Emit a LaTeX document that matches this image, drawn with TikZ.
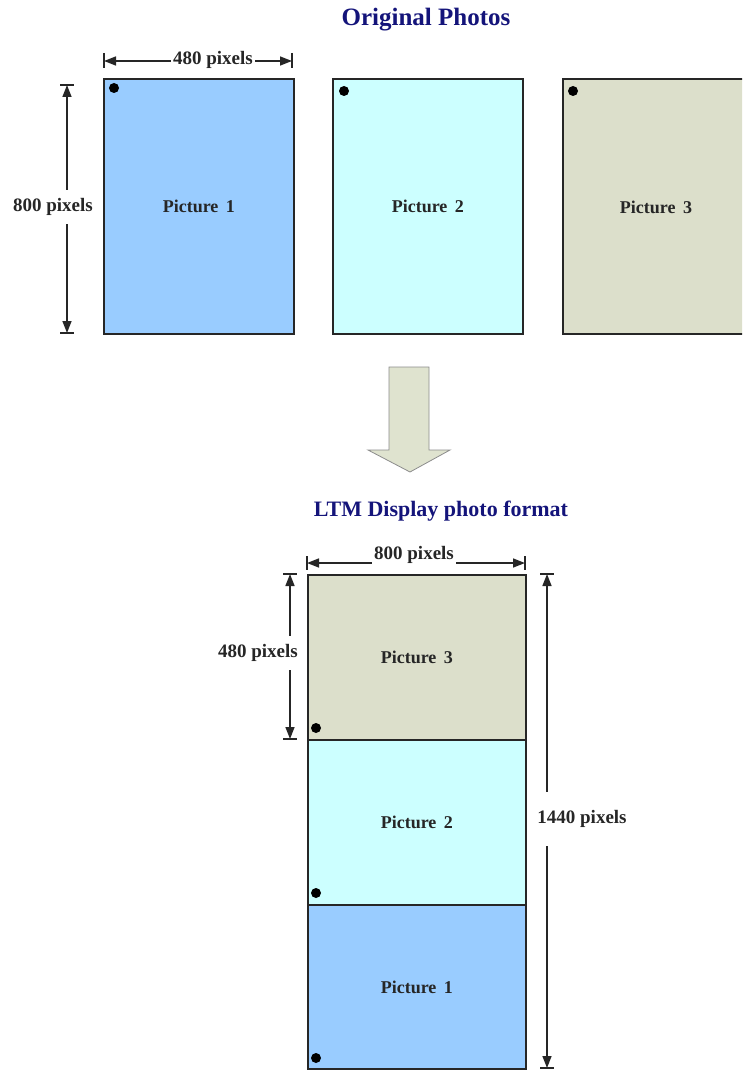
\documentclass[tikz,border=0pt]{standalone}
\usepackage{fontspec}
\setmainfont{Liberation Serif}
\usetikzlibrary{arrows.meta}
\definecolor{pblue}{HTML}{99CCFF}
\definecolor{pcyan}{HTML}{CCFFFF}
\definecolor{pgray}{HTML}{DCDFCB}
\definecolor{navy}{HTML}{14147A}
\definecolor{arrowfill}{HTML}{DFE3CF}
\begin{document}
\begin{tikzpicture}[x=1pt,y=-1pt,
  photo/.style={draw=black!85, line width=1.8pt, anchor=north west, inner sep=0pt,
    font=\fontsize{18}{22}\selectfont\bfseries, text=black!85},
  toppic/.style={photo, minimum width=190pt, minimum height=255pt},
  botpic/.style={photo, minimum width=218pt, minimum height=165pt},
  heading/.style={font=\fontsize{22}{27}\selectfont\bfseries, text=navy},
  dimtext/.style={fill=white, inner sep=2pt, font=\fontsize{19}{22}\selectfont\bfseries, text=black!85},
  dimline/.style={{Triangle[length=12pt,width=9pt]}-{Triangle[length=12pt,width=9pt]}, line width=1.5pt, draw=black!85},
  tick/.style={line width=1.5pt, draw=black!85},
  dot/.style={fill=black}
]
\useasboundingbox (0,0) rectangle (742,1070);
\clip (0,0) rectangle (742,1070);

% headings
\node[heading, font=\fontsize{25}{29}\selectfont\bfseries] (h1) at (426,20) {Original Photos};
\node[heading] (h2) at (441,511) {LTM Display photo format};

% original photos
\node[toppic, fill=pblue] (p1) at (103,78) {Picture\, 1};
\node[toppic, fill=pcyan] (p2) at (332,78) {Picture\, 2};
\node[toppic, fill=pgray] (p3) at (562,78) {};
\node[font=\fontsize{18}{22}\selectfont\bfseries, text=black!85] (p3t) at (656,207) {Picture\, 3};
\fill[dot] (114,88) circle (5);
\fill[dot] (344,91) circle (5);
\fill[dot] (573,91) circle (5);

% dimension 480 (top)
\coordinate (t1a) at (104,61);
\coordinate (t1b) at (292,61);
\draw[tick] (104,53) -- (104,68);
\draw[tick] (292,53) -- (292,68);
\draw[dimline] (t1a) -- (t1b);
\node[dimtext] (t1t) at (213,60) {480 pixels};

% dimension 800 (left)
\coordinate (l1a) at (67,85);
\coordinate (l1b) at (67,333);
\draw[tick] (60,85) -- (74,85);
\draw[tick] (60,333) -- (74,333);
\draw[dimline] (l1a) -- (l1b);
\node[dimtext, inner ysep=8pt] (l1t) at (53,207) {800 pixels};

% big arrow
\draw[fill=arrowfill, draw=black!45, line width=0.8pt] (389,367) -- (429,367) -- (429,450) -- (450,450) -- (410,472) -- (368,450) -- (389,450) -- cycle;

% LTM format stack
\node[botpic, fill=pgray] (b3) at (307,574) {Picture\, 3};
\node[botpic, fill=pcyan] (b2) at (307,739) {Picture\, 2};
\node[botpic, fill=pblue, minimum height=164pt] (b1) at (307,904) {Picture\, 1};
\fill[dot] (316,728) circle (5);
\fill[dot] (316,893) circle (5);
\fill[dot] (316,1058) circle (5);

% dimension 800 (bottom top)
\coordinate (t2a) at (307,563);
\coordinate (t2b) at (525,563);
\draw[tick] (307,556) -- (307,570);
\draw[tick] (525,556) -- (525,570);
\draw[dimline] (t2a) -- (t2b);
\node[dimtext] (t2t) at (414,555) {800 pixels};

% dimension 480 (bottom left)
\coordinate (l2a) at (290,574);
\coordinate (l2b) at (290,739);
\draw[tick] (283,574) -- (297,574);
\draw[tick] (283,739) -- (297,739);
\draw[dimline] (l2a) -- (l2b);
\node[dimtext, inner ysep=8pt] (l2t) at (258,653) {480 pixels};

% dimension 1440 (right)
\coordinate (r1a) at (547,574);
\coordinate (r1b) at (547,1068);
\draw[tick] (540,574) -- (554,574);
\draw[tick] (540,1068) -- (554,1068);
\draw[dimline] (r1a) -- (r1b);
\node[dimtext, inner ysep=18pt] (r1t) at (582,819) {1440 pixels};
\end{tikzpicture}
\end{document}
